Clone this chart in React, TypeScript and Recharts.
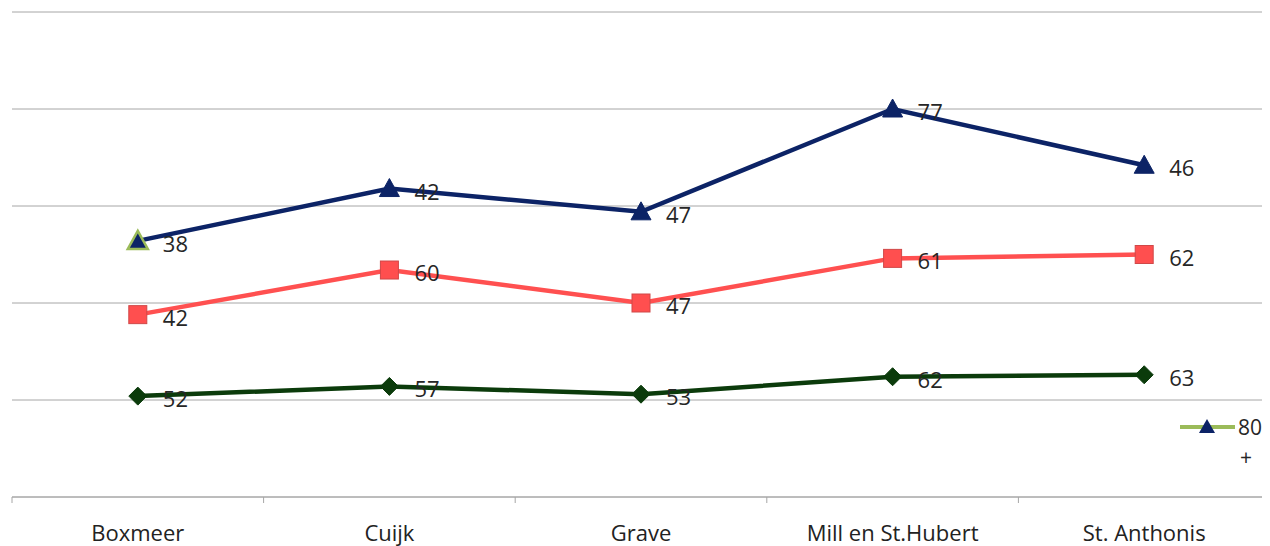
import React from "react";
import { LineChart, Line, XAxis, YAxis, CartesianGrid } from "recharts";

const categories = ["Boxmeer", "Cuijk", "Grave", "Mill en St.Hubert", "St. Anthonis"];
const serieGreen = [52, 57, 53, 62, 63];
const serieRed = [42, 60, 47, 61, 62];
const serie80 = [38, 42, 47, 77, 46];
const yTicks = [0, 50, 100, 150, 200, 250];

const data = categories.map((name, i) => ({
  name,
  green: serieGreen[i],
  red: serieGreen[i] + serieRed[i],
  blue: serieGreen[i] + serieRed[i] + serie80[i],
}));

const FONT = "'Open Sans', 'Noto Sans', sans-serif";
const HALF_BAND = 1258 / 10;

const XTick = (props: any) => {
  const { x, y, payload, index } = props;
  return (
    <g>
      <line x1={x - HALF_BAND} x2={x - HALF_BAND} y1={y} y2={y + 6} stroke="#A6A6A6" strokeWidth={1} />
      {index === categories.length - 1 && (
        <line x1={x + HALF_BAND} x2={x + HALF_BAND} y1={y} y2={y + 6} stroke="#A6A6A6" strokeWidth={1} />
      )}
      <text x={x} y={y + 35} textAnchor="middle" dominantBaseline="central" fontSize={22} fill="#222" fontFamily={FONT}>
        {payload.value}
      </text>
    </g>
  );
};

const makeLabel = (values: number[]) => (props: any) => {
  const { x, y, index } = props;
  return (
    <text x={x + 25} y={y + 2} dominantBaseline="central" fontSize={22} fill="#262626" fontFamily={FONT}>
      {values[index]}
    </text>
  );
};

const TriangleDot = (props: any) => {
  const { cx, cy, index } = props;
  if (cx == null || cy == null) return null;
  const first = index === 0;
  return (
    <polygon
      points={`${cx},${cy - 10} ${cx + 10},${cy + 8} ${cx - 10},${cy + 8}`}
      fill="#0C2366"
      stroke={first ? "#9BBB59" : "#0C2366"}
      strokeWidth={first ? 2.5 : 1}
    />
  );
};

const SquareDot = (props: any) => {
  const { cx, cy } = props;
  if (cx == null || cy == null) return null;
  return <rect x={cx - 9} y={cy - 9} width={18} height={18} fill="#FF4F4F" stroke="#D04848" strokeWidth={1} />;
};

const DiamondDot = (props: any) => {
  const { cx, cy } = props;
  if (cx == null || cy == null) return null;
  return <polygon points={`${cx},${cy - 9} ${cx + 9},${cy} ${cx},${cy + 9} ${cx - 9},${cy}`} fill="#0B3B0B" stroke="#0B3B0B" />;
};

export default function App() {
  return (
    <div style={{ position: "relative", width: 1262, height: 538 }}>
      <LineChart width={1262} height={538} data={data} margin={{ top: 4, right: 0, left: 4, bottom: 0 }}>
        <CartesianGrid horizontal vertical={false} stroke="#A6A6A6" strokeWidth={1} />
        <YAxis hide domain={[0, 250]} ticks={yTicks} type="number" />
        <XAxis
          dataKey="name"
          scale="band"
          height={49}
          tickLine={false}
          tickSize={0}
          tickMargin={0}
          axisLine={{ stroke: "#A6A6A6" }}
          tick={<XTick />}
          interval={0}
        />
        <Line
          dataKey="green"
          stroke="#0B3B0B"
          strokeWidth={4.5}
          dot={<DiamondDot />}
          activeDot={false}
          isAnimationActive={false}
          label={makeLabel(serieGreen)}
        />
        <Line
          dataKey="red"
          stroke="#FF5050"
          strokeWidth={4.5}
          dot={<SquareDot />}
          activeDot={false}
          isAnimationActive={false}
          label={makeLabel(serieRed)}
        />
        <Line
          dataKey="blue"
          stroke="#0C2366"
          strokeWidth={4.5}
          dot={<TriangleDot />}
          activeDot={false}
          isAnimationActive={false}
          label={makeLabel(serie80)}
        />
      </LineChart>
      <div style={{ position: "absolute", left: 1172, top: 405, width: 90, height: 60, fontFamily: FONT, fontSize: 21, color: "#262626" }}>
        <svg width={56} height={30} style={{ position: "absolute", left: 0, top: 0 }}>
          <line x1={0} x2={55} y1={14} y2={14} stroke="#9BBB59" strokeWidth={4} />
          <polygon points="27,6 35,20 19,20" fill="#0C2366" />
        </svg>
        <div style={{ position: "absolute", left: 58, top: 0, lineHeight: "28px" }}>80</div>
        <div style={{ position: "absolute", left: 60, top: 30, lineHeight: "28px" }}>+</div>
      </div>
    </div>
  );
}
